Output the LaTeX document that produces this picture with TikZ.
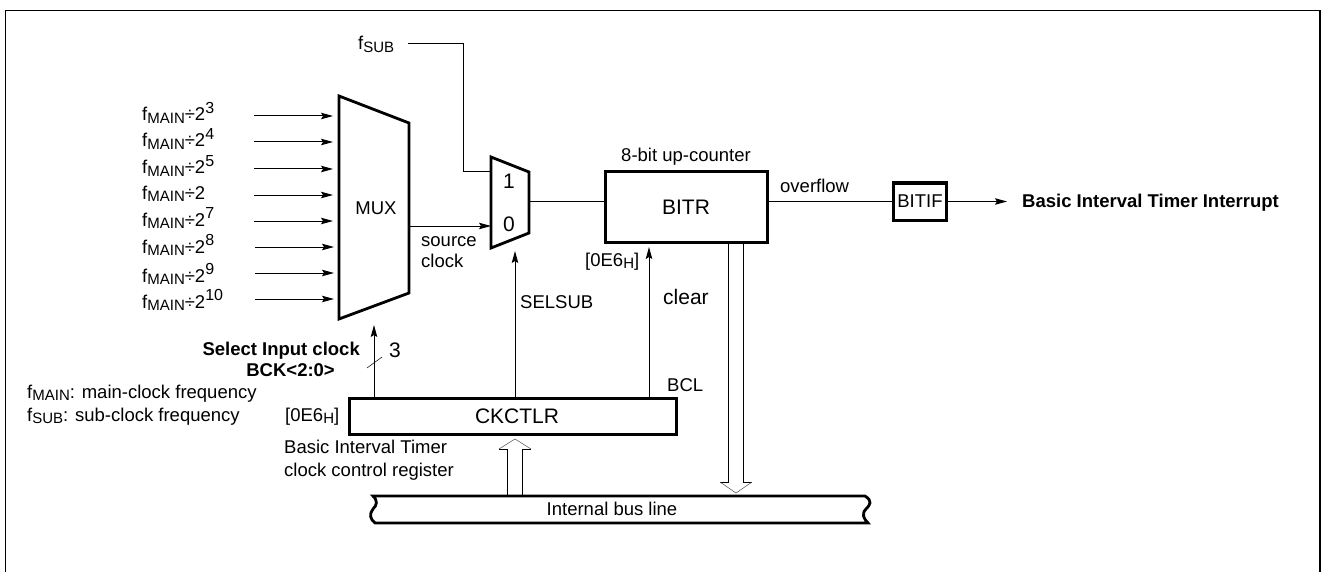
\documentclass[tikz,border=0pt]{standalone}
\usepackage{fontspec}
\setmainfont{Liberation Sans}
\usetikzlibrary{positioning, arrows.meta, calc}
\newcommand{\lo}[1]{\raisebox{-0.3ex}{\fontsize{15}{15}\selectfont #1}}
\newcommand{\hi}[1]{\raisebox{0.75ex}{\fontsize{16}{16}\selectfont #1}}
\tikzset{
    thickbox/.style={draw, line width=3pt, inner sep=0pt},
    thickline/.style={line width=2.8pt, line join=miter},
    lbl/.style={inner sep=0pt, anchor=base west},
    lblc/.style={inner sep=0pt, anchor=base},
    bigtext/.style={font=\fontsize{21}{24}\selectfont},
    boldtext/.style={font=\fontsize{18.5}{20}\selectfont\bfseries},
    wire/.style={line width=1pt},
    hollow/.style={line width=0.5pt, draw=black!70},
}

\begin{document}
\begin{tikzpicture}[x=1pt, y=-1pt, >={Stealth[length=12pt,width=6.5pt,inset=2pt]}, font=\fontsize{18.5}{20}\selectfont]
    \useasboundingbox (0,0) rectangle (1321,572);
    % outer frame, no bottom edge
    \draw[line width=1.4pt] (5.5,572) -- (5.5,10.5) -- (1320,10.5) -- (1320,572);
    % input MUX
    \coordinate (muxtl) at (339,96);
    \coordinate (muxtr) at (409,123);
    \coordinate (muxbr) at (409,293);
    \coordinate (muxbl) at (339,319);
    \draw[thickline] (muxtl) -- (muxtr) -- (muxbr) -- (muxbl) -- cycle;
    \node[lblc] (mux) at (376,214) {MUX};
    % SELSUB mux
    \coordinate (seltl) at (491,157);
    \coordinate (seltr) at (529,172);
    \coordinate (selbr) at (529,233);
    \coordinate (selbl) at (491,248);
    \draw[thickline] (seltl) -- (seltr) -- (selbr) -- (selbl) -- cycle;
    \node[lblc, bigtext] (one) at (509,188) {1};
    \node[lblc, bigtext] (zero) at (509,231) {0};
    % registers
    \node[thickbox, bigtext, minimum width=162pt, minimum height=71pt] (bitr) at (686,207) {BITR};
    \node[thickbox, minimum width=53pt, minimum height=37pt] (bitif) at (920,201.5) {BITIF};
    \node[thickbox, bigtext, minimum width=327pt, minimum height=36pt] (ckctlr) at (512.5,416.5) {\hspace*{9pt}CKCTLR};
    % clock inputs
    \foreach \nm/\ex/\ty/\ay/\ax in {a/\hi{3}/121/116/254, b/\hi{4}/147/142/254, c/\hi{5}/174/169/254,
        d//199/195/254, e/\hi{7}/226/221/254, f/\hi{8}/253/247/255, g/\hi{9}/282/273/255, h/\hi{10}/308/299/255} {
        \node[lbl] (in\nm) at (142,\ty) {f\lo{MAIN}÷2\ex};
        \coordinate (from\nm) at (\ax,\ay);
        \coordinate (to\nm) at (\ax+79,\ay);
        \draw[->, wire] (from\nm) -- (to\nm);
    }
    % fSUB path
    \node[lbl] (fsub) at (358,50) {f\lo{SUB}};
    \coordinate (fsubst) at (408,44);
    \coordinate (fsubin) at (491,172);
    \draw[wire] (fsubst) -| (463,172) -- (fsubin);
    % clock path
    \coordinate (sel0) at (491,226);
    \coordinate (muxout) at (409,226);
    \draw[->, wire] (muxout) -- (sel0);
    \node[lbl] (src) at (421,246) {source};
    \node[lbl] (clk) at (421,267) {clock};
    \coordinate (selout) at (529,201);
    \draw[wire] (selout) -- (bitr.west |- selout);
    \node[lblc] (cnt) at (686,162) {8-bit up-counter};
    \draw[wire] (bitr.east |- bitif.west) -- (bitif.west);
    \node[lbl] (ovf) at (780,192) {overflow};
    \coordinate (intend) at (1007,201.5);
    \draw[->, wire] (bitif.east) -- (intend);
    \node[lbl, boldtext] (intr) at (1022,207) {Basic Interval Timer Interrupt};
    % control lines from CKCTLR
    \coordinate (bcktop) at (374,325);
    \draw[->, wire] (ckctlr.north -| bcktop) -- (bcktop);
    \coordinate (sla) at (367,368);
    \coordinate (slb) at (382,357);
    \draw[line width=0.5pt] (sla) -- (slb);
    \node[lbl, bigtext] (three) at (389,357) {3};
    \node[lbl, anchor=base east, boldtext] (seltxt) at (360,355) {Select Input clock};
    \node[lbl, anchor=base east, boldtext] (bcktxt) at (335,376) {BCK<2:0>};
    \coordinate (seltop) at (515,251);
    \draw[->, wire] (ckctlr.north -| seltop) -- (seltop);
    \node[lbl] (selsub) at (520,308) {SELSUB};
    \coordinate (clrtop) at (649,247);
    \draw[->, wire] (ckctlr.north -| clrtop) -- (clrtop);
    \node[lbl, bigtext] (clear) at (663,304) {clear};
    \node[lbl] (bcl) at (667,391) {BCL};
    \node[lbl] (addra) at (585,266) {[0E6\lo{H}]};
    \node[lbl] (addrb) at (285,421) {[0E6\lo{H}]};
    \node[lbl] (ctla) at (284,453) {Basic Interval Timer};
    \node[lbl] (ctlb) at (284,476) {clock control register};
    % notes
    \node[lbl] (notea) at (27,398) {f\lo{MAIN}: main-clock frequency};
    \node[lbl] (noteb) at (27,421) {f\lo{SUB}: sub-clock frequency};
    % internal bus
    \draw[thickline] (865,496) .. controls (873,501) and (870,505) .. (866,509)
        .. controls (861,514) and (864,519) .. (868,523) -- (375,523)
        .. controls (370,519) and (369,514) .. (373,509)
        .. controls (377,505) and (378,501) .. (373,496) -- cycle;
    \node[lblc] (bus) at (612,515) {Internal bus line};
    % hollow bus arrows
    \coordinate (upla) at (507,496);
    \coordinate (uplb) at (522,496);
    \draw[wire] (upla) -- (507,449) -- (499,449);
    \draw[wire] (uplb) -- (522,449) -- (531,449);
    \draw[hollow] (499,449) -- (515,439) -- (531,449);
    \draw[wire] (728.5,243) -- (728.5,482) -- (720,482);
    \draw[wire] (743.5,243) -- (743.5,482) -- (752,482);
    \draw[hollow] (720,482) -- (736,493) -- (752,482);
\end{tikzpicture}
\end{document}
